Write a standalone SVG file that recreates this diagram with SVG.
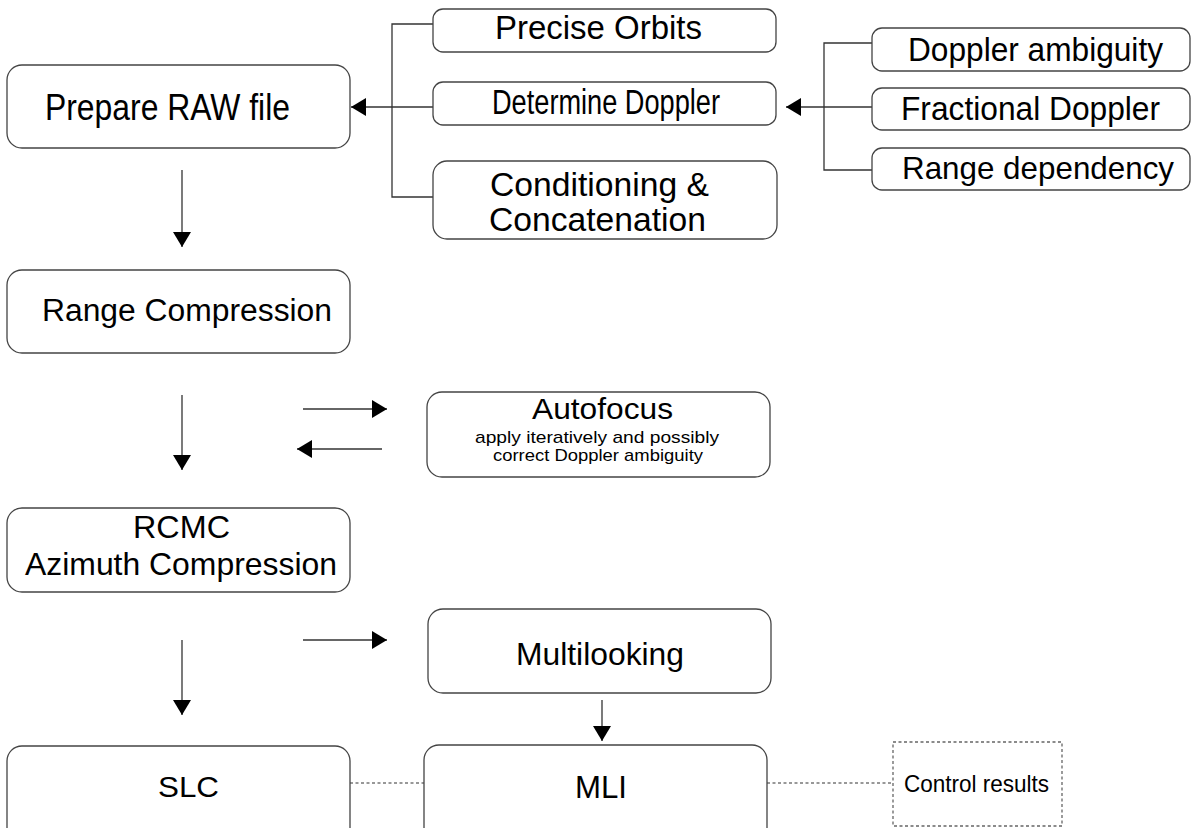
<svg xmlns="http://www.w3.org/2000/svg" width="1192" height="828" viewBox="0 0 1192 828">
<style>
.box{fill:#fff;stroke:#444;stroke-width:1.3}
.dbox{fill:#fff;stroke:#666;stroke-width:1.3;stroke-dasharray:3,2.5}
.ln{fill:none;stroke:#333;stroke-width:1.3}
.dl{fill:none;stroke:#777;stroke-width:1.5;stroke-dasharray:3,2.5}
.t{font-family:"Liberation Sans",Arial,sans-serif;fill:#000}
.s{font-family:"Liberation Sans",Arial,sans-serif;font-size:17px;fill:#000}
.c{font-family:"Liberation Sans",Arial,sans-serif;font-size:24px;fill:#000}
</style>
<defs>
<marker id="ah" viewBox="0 0 15 18" refX="15" refY="9" markerWidth="15" markerHeight="18" markerUnits="userSpaceOnUse" orient="auto">
<path d="M0,0 L15,9 L0,18 z" fill="#000"/>
</marker>
</defs>
<rect width="1192" height="828" fill="#fff"/>
<g id="connectors">
<path class="ln" d="M433,24 H392 V197 H433"/>
<path class="ln" d="M433,107 H351" marker-end="url(#ah)"/>
<path class="ln" d="M872,43 H824 V170 H872"/>
<path class="ln" d="M872,107 H786" marker-end="url(#ah)"/>
<path class="ln" d="M182,170 V247" marker-end="url(#ah)"/>
<path class="ln" d="M182,395 V470" marker-end="url(#ah)"/>
<path class="ln" d="M303,409 H387" marker-end="url(#ah)"/>
<path class="ln" d="M382,449 H297" marker-end="url(#ah)"/>
<path class="ln" d="M182,640 V715" marker-end="url(#ah)"/>
<path class="ln" d="M303,640 H387" marker-end="url(#ah)"/>
<path class="ln" d="M602,700 V741" marker-end="url(#ah)"/>
<path class="dl" d="M350,783 H424"/>
<path class="dl" d="M767,783 H893"/>
</g>
<g id="prepare-raw">
<rect class="box" x="7" y="65" width="343" height="83" rx="15"/>
<text class="t" style="font-size:36px" x="45" y="120" textLength="245" lengthAdjust="spacingAndGlyphs">Prepare RAW file</text>
</g>
<g id="precise-orbits">
<rect class="box" x="433" y="9" width="343" height="43" rx="10"/>
<text class="t" style="font-size:34px" x="495" y="39" textLength="207" lengthAdjust="spacingAndGlyphs">Precise Orbits</text>
</g>
<g id="determine-doppler">
<rect class="box" x="433" y="82" width="343" height="43" rx="10"/>
<text class="t" style="font-size:35px" x="492" y="114" textLength="228" lengthAdjust="spacingAndGlyphs">Determine Doppler</text>
</g>
<g id="conditioning">
<rect class="box" x="433" y="161" width="344" height="78" rx="14"/>
<text class="t" style="font-size:34px" x="490" y="196" textLength="219" lengthAdjust="spacingAndGlyphs">Conditioning &amp;</text>
<text class="t" style="font-size:34px" x="489" y="231" textLength="217" lengthAdjust="spacingAndGlyphs">Concatenation</text>
</g>
<g id="doppler-ambiguity">
<rect class="box" x="872" y="28" width="318" height="43" rx="10"/>
<text class="t" style="font-size:34px" x="908" y="61" textLength="255" lengthAdjust="spacingAndGlyphs">Doppler ambiguity</text>
</g>
<g id="fractional-doppler">
<rect class="box" x="872" y="88" width="318" height="42" rx="10"/>
<text class="t" style="font-size:34px" x="901" y="120" textLength="259" lengthAdjust="spacingAndGlyphs">Fractional Doppler</text>
</g>
<g id="range-dependency">
<rect class="box" x="872" y="148" width="318" height="42" rx="10"/>
<text class="t" style="font-size:32px" x="902" y="179" textLength="272" lengthAdjust="spacingAndGlyphs">Range dependency</text>
</g>
<g id="range-compression">
<rect class="box" x="7" y="270" width="343" height="83" rx="15"/>
<text class="t" style="font-size:31px" x="42" y="321" textLength="290" lengthAdjust="spacingAndGlyphs">Range Compression</text>
</g>
<g id="autofocus">
<rect class="box" x="427" y="392" width="343" height="85" rx="15"/>
<text class="t" style="font-size:30px" x="532" y="419" textLength="141" lengthAdjust="spacingAndGlyphs">Autofocus</text>
<text class="s" x="475" y="443" textLength="244" lengthAdjust="spacingAndGlyphs">apply iteratively and possibly</text>
<text class="s" x="493" y="461" textLength="210" lengthAdjust="spacingAndGlyphs">correct Doppler ambiguity</text>
</g>
<g id="rcmc">
<rect class="box" x="7" y="508" width="343" height="84" rx="15"/>
<text class="t" style="font-size:31px" x="133" y="538" textLength="97" lengthAdjust="spacingAndGlyphs">RCMC</text>
<text class="t" style="font-size:32px" x="25" y="575" textLength="312" lengthAdjust="spacingAndGlyphs">Azimuth Compression</text>
</g>
<g id="multilooking">
<rect class="box" x="428" y="609" width="343" height="84" rx="15"/>
<text class="t" style="font-size:32px" x="516" y="665" textLength="168" lengthAdjust="spacingAndGlyphs">Multilooking</text>
</g>
<g id="slc">
<rect class="box" x="7" y="746" width="343" height="100" rx="15"/>
<text class="t" style="font-size:30px" x="158" y="797" textLength="61" lengthAdjust="spacingAndGlyphs">SLC</text>
</g>
<g id="mli">
<rect class="box" x="424" y="745" width="343" height="100" rx="15"/>
<text class="t" style="font-size:32px" x="575" y="798" textLength="52" lengthAdjust="spacingAndGlyphs">MLI</text>
</g>
<g id="control-results">
<rect class="dbox" x="893" y="742" width="169" height="84"/>
<text class="c" x="904" y="792" textLength="145" lengthAdjust="spacingAndGlyphs">Control results</text>
</g>
</svg>
